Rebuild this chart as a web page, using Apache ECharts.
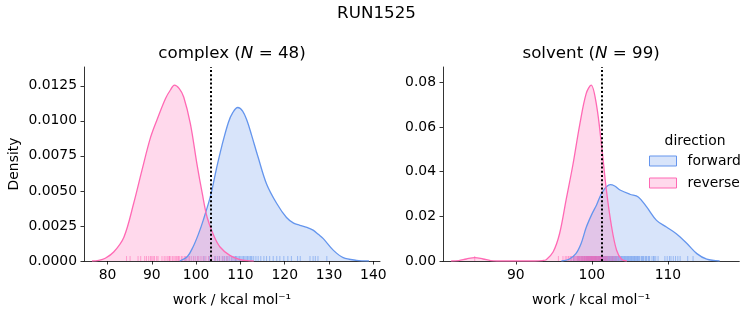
<!DOCTYPE html>
<html><head><meta charset="utf-8">
<script src="https://cdn.jsdelivr.net/npm/echarts@6/dist/echarts.min.js"></script>
<style>html,body{margin:0;padding:0;background:#fff}#c{width:753px;height:325px}</style>
</head><body><div id="c"></div>
<script>
// ---- Data ----
const suptitle = 'RUN1525';
const panelNames = ['complex', 'solvent'];
const panelN = [48, 99];
const directions = ['forward', 'reverse'];

// KDE curves [work, density]
const complexForwardKde = [[96.3,0],[98,0.0003],[99.3,0.001],[100.5,0.0019],[101.6,0.0029],[103.3,0.0047],[104.6,0.0066],[105.8,0.0082],[107.3,0.0099],[108.3,0.0106],[109.4,0.01095],[110.5,0.0107],[111.5,0.0100],[112.5,0.0090],[114.0,0.0074],[115.9,0.0055],[118.2,0.0041],[120.4,0.0031],[122.0,0.0027],[123.4,0.00255],[125.0,0.0024],[126.4,0.0022],[127.6,0.0019],[128.7,0.0016],[131.0,0.00076],[133.2,0.00024],[136.2,0.00005],[139,0]];
const complexReverseKde = [[76.5,0],[78,0.00005],[79.5,0.0002],[81.4,0.00064],[83.7,0.0017],[85.9,0.0041],[87.8,0.0065],[89.7,0.0088],[91.2,0.0101],[93.1,0.0116],[94.2,0.0122],[95.1,0.01255],[96.2,0.0123],[97.2,0.0117],[98.7,0.0098],[100.2,0.0069],[101.4,0.0048],[102.5,0.0031],[104.0,0.0018],[105.4,0.0010],[107.6,0.0004],[109.9,0.0001],[112,0.00001],[113,0]];
const solventForwardKde = [[96,0],[97,0.0008],[97.9,0.0033],[98.6,0.0080],[99.25,0.0150],[100.0,0.0210],[100.6,0.0250],[101.4,0.0310],[102.4,0.0342],[103.0,0.0336],[103.7,0.0318],[105.0,0.0299],[106.1,0.0287],[107.2,0.0242],[108.5,0.0182],[109.8,0.0152],[111.1,0.0122],[112.5,0.0078],[113.8,0.0033],[115.1,0.0008],[116.8,0]];
const solventReverseKde = [[81.5,0],[82.5,0.0002],[83.5,0.0009],[84.6,0.0015],[85.7,0.0009],[86.7,0.0002],[87.5,0],[92.5,0],[93.5,0.0002],[94.0,0.0006],[94.9,0.0040],[95.75,0.0122],[96.6,0.0272],[97.5,0.0430],[98.4,0.0610],[99.25,0.0750],[99.9,0.0788],[100.6,0.0700],[101.3,0.0510],[101.9,0.0320],[102.6,0.0152],[103.25,0.0048],[103.9,0.0008],[104.6,0]];

// Rug samples (work values)
const complexForwardRug = [101.8,103.0,104.2,104.8,105.3,105.9,106.4,106.8,107.2,107.6,108.0,108.3,108.6,108.9,109.0,109.2,109.5,109.8,110.1,110.4,110.7,111.0,111.3,111.6,111.9,112.2,112.4,112.6,113.0,113.5,114.0,114.6,115.3,115.9,116.6,117.4,118.2,118.9,119.8,120.7,121.5,122.9,123.5,125.7,126.4,126.9,127.5,129.5];
const complexReverseRug = [84.3,85.1,86.9,87.5,88.4,88.8,89.3,89.7,90.0,90.3,90.6,91.1,91.4,92.3,92.8,93.2,93.6,93.9,94.0,94.3,94.7,95.0,95.3,95.6,95.9,96.0,96.3,96.7,97.0,97.4,97.6,97.8,98.2,98.5,98.9,99.4,99.8,100.3,100.6,101.1,101.6,102.2,102.8,103.5,104.4,105.2,106.1,107.0];
const solventForwardRug = [97.6,98.2,98.7,99.0,99.3,99.5,99.6,99.8,100.0,100.2,100.4,100.5,100.6,100.8,100.9,101.0,101.1,101.2,101.4,101.5,101.6,101.7,101.8,101.9,102.0,102.1,102.2,102.3,102.4,102.5,102.6,102.7,102.8,102.9,103.0,103.1,103.2,103.3,103.4,103.5,103.6,103.7,103.8,103.9,104.0,104.1,104.2,104.3,104.4,104.5,104.6,104.7,104.8,104.9,105.0,105.1,105.2,105.3,105.4,105.5,105.6,105.7,105.8,105.9,106.0,106.1,106.2,106.3,106.5,106.6,106.7,106.8,107.0,107.1,107.2,107.4,107.5,107.6,107.9,108.1,108.2,108.4,108.7,109.6,109.9,110.2,110.4,110.7,111.0,111.3,111.6,112.6,113.3];
const solventReverseRug = [84.6,95.6,96.2,96.5,96.9,97.0,97.3,97.4,97.6,97.7,97.9,98.0,98.1,98.2,98.3,98.35,98.4,98.5,98.6,98.65,98.7,98.8,98.85,98.9,99.0,99.05,99.1,99.15,99.2,99.25,99.3,99.35,99.4,99.45,99.5,99.55,99.6,99.65,99.7,99.75,99.8,99.85,99.9,99.95,100.0,100.02,100.05,100.1,100.15,100.2,100.25,100.3,100.35,100.4,100.45,100.5,100.55,100.6,100.65,100.7,100.75,100.8,100.9,100.95,101.0,101.1,101.15,101.2,101.3,101.4,101.5,101.6,101.7,101.8,101.9,102.0,102.1,102.3,102.5,102.7,102.9,103.2,97.2,97.8,98.45,98.75,99.55,99.95,100.35,100.85,101.25,96.7,98.15,99.05,99.4,99.7,100.12,100.48,101.05];

// Vertical reference lines (work)
const refLines = [103.3, 101.3];

// Axis ticks
const xTicks = [[80,90,100,110,120,130,140],[90,100,110]];
const yTicks = [[0,0.0025,0.005,0.0075,0.01,0.0125],[0,0.02,0.04,0.06,0.08]];
const yDecimals = [4, 2];
const xRange = [[74.7,141.5],[80.43,119.38]];
const yMax = [0.01384, 0.0869];

// ---- Styles ----
const FONT = 'DejaVu Sans';
const colors = {forward:'#6495ED', reverse:'#FF69B4'};
const fills = {forward:'rgba(100,149,237,0.25)', reverse:'rgba(255,105,180,0.25)'};
const rugColors = {forward:'rgba(100,149,237,0.7)', reverse:'rgba(255,105,180,0.7)'};
const grids = [
  {left:84, top:67, width:296, height:194},
  {left:443, top:67, width:296.3, height:194}
];

const kdes = [[complexForwardKde, complexReverseKde],[solventForwardKde, solventReverseKde]];
const rugs = [[complexForwardRug, complexReverseRug],[solventForwardRug, solventReverseRug]];

const xAxes = [], yAxes = [], series = [], titles = [];
titles.push({text:suptitle, left:'center', top:5, padding:0,
  textStyle:{fontFamily:FONT, fontSize:16.7, fontWeight:'normal', color:'#000'}});

for (let p = 0; p < 2; p++) {
  const g = grids[p];
  xAxes.push({gridIndex:p, type:'value', min:xRange[p][0], max:xRange[p][1],
    name:'work / kcal mol\u207B\u00B9', nameLocation:'middle', nameGap:32,
    nameTextStyle:{fontFamily:FONT, fontSize:13.9, color:'#000'},
    axisLine:{show:true, lineStyle:{color:'#000', width:0.8}},
    axisTick:{show:true, length:3.5, lineStyle:{color:'#000', width:0.8}, customValues:xTicks[p]},
    axisLabel:{fontFamily:FONT, fontSize:13.9, color:'#000', margin:7, customValues:xTicks[p]},
    splitLine:{show:false}});
  yAxes.push({gridIndex:p, type:'value', min:0, max:yMax[p],
    name: p === 0 ? 'Density' : '', nameLocation:'middle', nameGap:63,
    nameTextStyle:{fontFamily:FONT, fontSize:13.9, color:'#000'},
    axisLine:{show:true, lineStyle:{color:'#000', width:0.8}},
    axisTick:{show:true, length:3.5, lineStyle:{color:'#000', width:0.8}, customValues:yTicks[p]},
    axisLabel:{fontFamily:FONT, fontSize:13.9, color:'#000', margin:7, customValues:yTicks[p],
      formatter:(v)=>v.toFixed(yDecimals[p])},
    splitLine:{show:false}});
  titles.push({text:'{a|' + panelNames[p] + ' (}{i|N}{a| = ' + panelN[p] + ')}',
    left: g.left + g.width/2, textAlign:'center', top:45, padding:0,
    textStyle:{fontWeight:'normal', rich:{
      a:{fontFamily:FONT, fontSize:16.7, fontWeight:'normal', color:'#000'},
      i:{fontFamily:FONT, fontSize:16.7, fontWeight:'normal', fontStyle:'italic', color:'#000'}}}});
  directions.forEach((d, k) => {
    const s = {name:d, type:'line', xAxisIndex:p, yAxisIndex:p, data:kdes[p][k],
      showSymbol:false, smooth:0.35, silent:true, z:3,
      lineStyle:{color:colors[d], width:1.3}, itemStyle:{color:colors[d]},
      areaStyle:{color:fills[d], opacity:1, origin:'start'}};
    if (k === 1) {
      s.markLine = {silent:true, symbol:'none', label:{show:false}, z:5,
        lineStyle:{color:'#000', type:[2,2.2], width:2},
        data:[{xAxis:refLines[p]}]};
    }
    series.push(s);
  });
  directions.forEach((d, k) => {
    series.push({name:d + ' rug', type:'scatter', xAxisIndex:p, yAxisIndex:p,
      data:rugs[p][k].map(v => [v, 0]), symbol:'rect', symbolSize:[1,5], symbolOffset:[0,-2.5],
      silent:true, itemStyle:{color:rugColors[d]}, z:2});
  });
}

titles.push({text:'direction', left:695, textAlign:'center', top:134, padding:0,
  textStyle:{fontFamily:FONT, fontSize:13.9, fontWeight:'normal', color:'#000'}});

const chart = echarts.init(document.getElementById('c'), null, {renderer:'canvas'});
chart.setOption({
  animation:false,
  backgroundColor:'#fff',
  title:titles,
  grid:grids,
  xAxis:xAxes,
  yAxis:yAxes,
  legend:{orient:'vertical', left:649, top:154, padding:0, itemWidth:27, itemHeight:10, itemGap:8,
    icon:'rect', selectedMode:false,
    textStyle:{fontFamily:FONT, fontSize:13.9, color:'#000', padding:[0,0,0,6]},
    data:directions.map(d => ({name:d, icon:'rect',
      itemStyle:{color:fills[d], borderColor:colors[d], borderWidth:1}}))},
  series:series
});
</script></body></html>
